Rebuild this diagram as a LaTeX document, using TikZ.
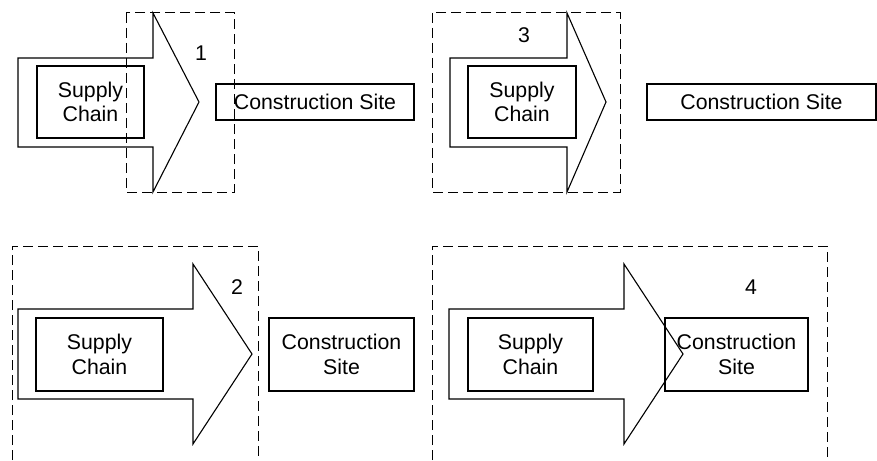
\documentclass[tikz,border=0pt]{standalone}
\usepackage{fontspec}
\setmainfont{Liberation Sans}
\usepackage{tikz}
\tikzset{block/.style = {draw, line width=1.1pt, rectangle, inner sep=0pt, align=center, font=\fontsize{21.3}{24.5}\selectfont},
         bigarrow/.style={draw, line width=1.1pt, line join=miter},
         zone/.style= {draw, line width=1pt, dash pattern=on 10pt off 5pt},
         num/.style= {font=\fontsize{21.3}{24.5}\selectfont, inner sep=0pt}}

\begin{document}
\begin{tikzpicture}[x=1pt,y=-1pt]
    \useasboundingbox(0,0)rectangle(877,460);
    % 1
    \draw[bigarrow](18,58)--(153,58)--(153,13)--(199,102)--(153,192)--(153,147)--(18,147)--cycle;
    \node[block,minimum width=107,minimum height=72](sc1)at(90.5,102){Supply\\Chain};
    \node[block,minimum width=198,minimum height=36](cs1)at(315,102){Construction Site};
    \draw[zone](126,13)rectangle(234,192);
    \node[num](n1)at(201,53){1};
    % 3
    \draw[bigarrow](450,58)--(567,58)--(567,13)--(606,102)--(567,192)--(567,147)--(450,147)--cycle;
    \node[block,minimum width=108,minimum height=72](sc3)at(522,102){Supply\\Chain};
    \node[block,minimum width=229,minimum height=36](cs3)at(761.5,102){Construction Site};
    \draw[zone](432,13)rectangle(620,192);
    \node[num](n3)at(524,35){3};
    % 2
    \draw[bigarrow](18,309)--(193,309)--(193,264)--(252,354)--(193,444)--(193,399)--(18,399)--cycle;
    \node[block,minimum width=127,minimum height=73](sc2)at(99.5,354.5){Supply\\Chain};
    \node[block,minimum width=145,minimum height=73](cs2)at(341.5,354.5){Construction\\Site};
    \draw[zone](12,460)--(12,246)--(258,246)--(258,460);
    \node[num](n2)at(237,287){2};
    % 4
    \draw[bigarrow](449,309)--(624,309)--(624,264)--(683,354)--(624,444)--(624,399)--(449,399)--cycle;
    \node[block,minimum width=125,minimum height=73](sc4)at(530.5,354.5){Supply\\Chain};
    \node[block,minimum width=143,minimum height=73](cs4)at(736.5,354.5){Construction\\Site};
    \draw[zone](432,460)--(432,246)--(827,246)--(827,460);
    \node[num](n4)at(751,287){4};
\end{tikzpicture}
\end{document}
